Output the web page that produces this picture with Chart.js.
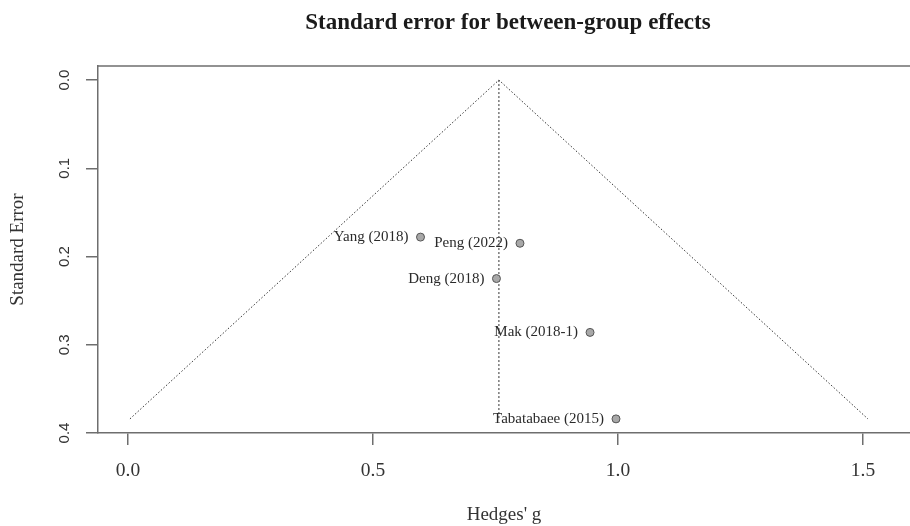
<!DOCTYPE html>
<html>
<head>
<meta charset="utf-8">
<title>Standard error for between-group effects</title>
<script src="https://cdn.jsdelivr.net/npm/chart.js@4.4.1/dist/chart.umd.min.js"></script>
<style>
  html, body { margin: 0; padding: 0; background: #ffffff; }
  #wrap { width: 910px; height: 526px; }
</style>
</head>
<body>
<div id="wrap"><canvas id="funnel" width="910" height="526"></canvas></div>
<script>
// Studies in the between-group comparison
const studies  = ["Yang (2018)", "Peng (2022)", "Deng (2018)", "Mak (2018-1)", "Tabatabaee (2015)"];
const hedgesG  = [0.597, 0.800, 0.752, 0.943, 0.996];
const stdErr   = [0.178, 0.185, 0.225, 0.286, 0.384];

// Pseudo-confidence funnel (pooled estimate ± 1.96·SE) and pooled-effect line
const funnelG  = [0.004, 0.757, 1.510];
const funnelSE = [0.384, 0.000, 0.384];
const pooledG  = [0.757, 0.757];
const pooledSE = [0.000, 0.384];

// Axis ticks
const xTicks = [0.0, 0.5, 1.0, 1.5];
const yTicks = [0.0, 0.1, 0.2, 0.3, 0.4];

const SERIF = "'Liberation Serif', 'Times New Roman', serif";
const SANS  = "'Liberation Sans', Arial, sans-serif";
const FRAME = '#6e6e6e';

const toXY = (xs, ys) => xs.map((x, i) => ({ x: x, y: ys[i] }));

// Draws the heading, the rotated y tick labels, the top frame edge and study labels
const annotate = {
  id: 'annotate',
  afterDraw(chart) {
    const { ctx, chartArea, scales } = chart;
    ctx.save();

    ctx.fillStyle = '#1a1a1a';
    ctx.font = "bold 23px " + SERIF;
    ctx.textAlign = 'center';
    ctx.textBaseline = 'middle';
    ctx.fillText('Standard error for between-group effects', 508, 23);

    ctx.strokeStyle = FRAME;
    ctx.lineWidth = 1.5;
    ctx.beginPath();
    ctx.moveTo(chartArea.left, chartArea.top);
    ctx.lineTo(chartArea.right, chartArea.top);
    ctx.stroke();

    ctx.fillStyle = '#333333';
    ctx.font = "15px " + SANS;
    scales.y.ticks.forEach(t => {
      const py = scales.y.getPixelForValue(t.value);
      ctx.save();
      ctx.translate(65, py);
      ctx.rotate(-Math.PI / 2);
      ctx.textAlign = 'center';
      ctx.textBaseline = 'middle';
      ctx.fillText(t.value.toFixed(1), 0, 0);
      ctx.restore();
    });

    const meta = chart.getDatasetMeta(0);
    ctx.fillStyle = '#2a2a2a';
    ctx.font = "15px " + SERIF;
    ctx.textAlign = 'right';
    ctx.textBaseline = 'middle';
    meta.data.forEach((pt, i) => {
      ctx.fillText(studies[i], pt.x - 12, pt.y);
    });
    ctx.restore();
  }
};

new Chart(document.getElementById('funnel'), {
  type: 'scatter',
  data: {
    datasets: [
      {
        label: 'Studies',
        data: toXY(hedgesG, stdErr),
        pointRadius: 4,
        pointBackgroundColor: '#a8a8a8',
        pointBorderColor: '#555555',
        pointBorderWidth: 1,
        showLine: false,
        order: 0
      },
      {
        label: 'Funnel',
        data: toXY(funnelG, funnelSE),
        showLine: true,
        pointRadius: 0,
        borderColor: '#333333',
        borderWidth: 1,
        borderDash: [1.5, 2],
        fill: false,
        order: 1
      },
      {
        label: 'Pooled',
        data: toXY(pooledG, pooledSE),
        showLine: true,
        pointRadius: 0,
        borderColor: '#333333',
        borderWidth: 1,
        borderDash: [2, 2],
        fill: false,
        order: 1
      }
    ]
  },
  options: {
    responsive: false,
    animation: false,
    devicePixelRatio: 1,
    layout: { autoPadding: false, padding: { left: 0, right: 0, top: 66, bottom: 0 } },
    plugins: {
      legend: { display: false },
      tooltip: { enabled: false },
      title: { display: false }
    },
    scales: {
      x: {
        type: 'linear',
        min: -0.0612,
        max: 1.596,
        afterBuildTicks: s => { s.ticks = xTicks.map(v => ({ value: v })); },
        afterFit: s => { s.height = 93; s.paddingLeft = 0; s.paddingRight = 0; },
        ticks: {
          color: '#333333',
          font: { family: SERIF, size: 19.5 },
          padding: 14,
          maxRotation: 0,
          autoSkip: false,
          callback: v => Number(v).toFixed(1)
        },
        grid: { drawOnChartArea: false, drawTicks: true, tickLength: 12, color: FRAME, lineWidth: 1.5 },
        border: { display: true, color: FRAME, width: 1.5 },
        title: {
          display: true,
          text: "Hedges' g",
          color: '#333333',
          font: { family: SERIF, size: 19 },
          padding: { top: 0, bottom: 0 }
        }
      },
      y: {
        type: 'linear',
        reverse: true,
        min: -0.0159,
        max: 0.4,
        afterBuildTicks: s => { s.ticks = yTicks.map(v => ({ value: v })); },
        afterFit: s => { s.width = 98; s.paddingTop = 0; s.paddingBottom = 0; },
        ticks: { display: false },
        grid: { drawOnChartArea: false, drawTicks: true, tickLength: 12, color: FRAME, lineWidth: 1.5 },
        border: { display: true, color: FRAME, width: 1.5 },
        title: {
          display: true,
          text: 'Standard Error',
          color: '#333333',
          font: { family: SERIF, size: 19 },
          padding: { top: 7, bottom: 0 }
        }
      }
    }
  },
  plugins: [annotate]
});
</script>
</body>
</html>
